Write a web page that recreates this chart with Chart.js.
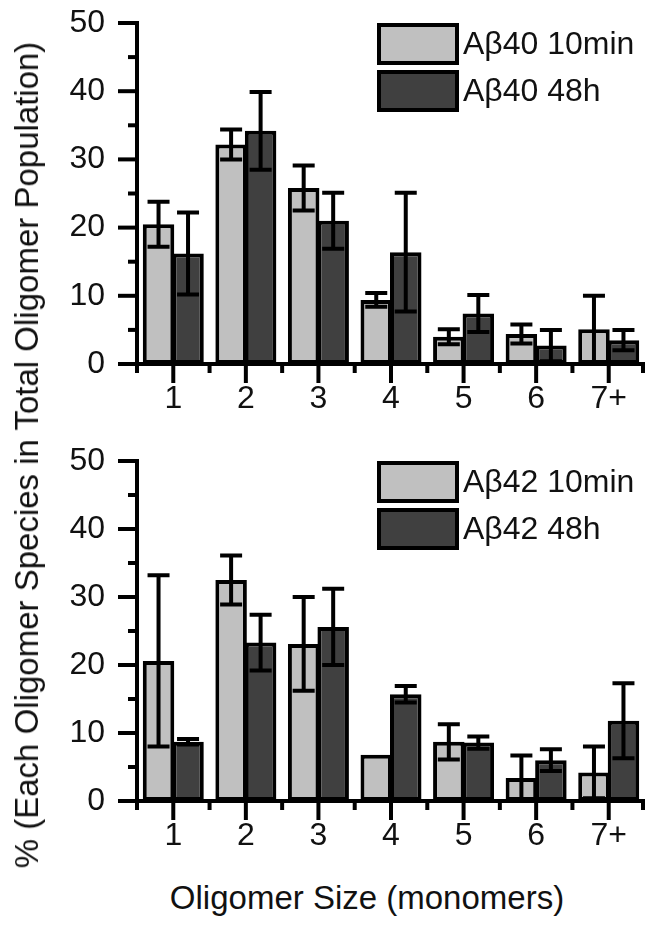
<!DOCTYPE html>
<html><head><meta charset="utf-8">
<script src="https://cdn.jsdelivr.net/npm/chart.js@4/dist/chart.umd.min.js"></script>
<style>
html,body{margin:0;padding:0;background:#fff;}
#wrap{position:relative;width:653px;height:927px;background:#fff;overflow:hidden;font-family:"Liberation Sans",Arial,sans-serif;}
.panel{position:absolute;left:0;width:653px;height:430px;}
#ytitle{position:absolute;left:27px;top:455px;white-space:nowrap;font-size:33px;color:#111;transform:translate(-50%,-50%) rotate(-90deg);transform-origin:center center;}
#xtitle{position:absolute;left:367px;top:898px;white-space:nowrap;font-size:33px;color:#111;transform:translate(-50%,-50%);}
</style></head>
<body>
<div id="wrap">
  <div class="panel" style="top:0px"><canvas id="c1" width="653" height="430"></canvas></div>
  <div class="panel" style="top:437px"><canvas id="c2" width="653" height="430"></canvas></div>
  <div id="ytitle">% (Each Oligomer Species in Total Oligomer Population)</div>
  <div id="xtitle">Oligomer Size (monomers)</div>
</div>
<script>
// ---- data ----
const categories = ["1","2","3","4","5","6","7+"];
const yTicks = [0,10,20,30,40,50];

const ab40Labels = ["A\u03b240 10min","A\u03b240 48h"];
const ab40_10min = [20.5, 32.2, 25.8, 9.4, 4.0, 4.4, 5.1];
const ab40_10min_err = [3.3, 2.2, 3.3, 1.0, 1.1, 1.4, 4.9];
const ab40_48h = [16.2, 34.2, 21.0, 16.4, 7.4, 2.7, 3.5];
const ab40_48h_err = [6.0, 5.7, 4.1, 8.7, 2.7, 2.3, 1.5];

const ab42Labels = ["A\u03b242 10min","A\u03b242 48h"];
const ab42_10min = [20.6, 32.5, 23.1, 6.8, 8.7, 3.4, 4.2];
const ab42_10min_err = [12.6, 3.6, 6.9, null, 2.6, 3.3, 3.8];
const ab42_48h = [8.7, 23.3, 25.6, 15.7, 8.6, 6.0, 11.8];
const ab42_48h_err = [0.4, 4.1, 5.6, 1.2, 0.9, 1.6, 5.5];

const LIGHT = "#c0c0c0", DARK = "#404040", INK = "#000";
const FONT = '"Liberation Sans", Arial, sans-serif';

// custom axes (major/minor ticks), error bars and in-plot legend
const figPlugin = {
  id: 'fig',
  afterDatasetsDraw(chart) {
    const ctx = chart.ctx;
    const xs = chart.scales.x, ys = chart.scales.y;
    const ca = chart.chartArea;
    const y0 = ys.getPixelForValue(0);
    const yTop = ys.getPixelForValue(50);
    ctx.save();
    ctx.strokeStyle = INK;
    ctx.lineWidth = 4;
    ctx.lineCap = 'butt';
    // y axis line
    ctx.beginPath();
    ctx.moveTo(ca.left, yTop - 2);
    ctx.lineTo(ca.left, y0 + 9);
    ctx.stroke();
    // x axis line
    ctx.beginPath();
    ctx.moveTo(ca.left - 19, y0);
    ctx.lineTo(ca.right, y0);
    ctx.stroke();
    // y ticks
    for (let v = 0; v <= 50; v += 5) {
      const py = ys.getPixelForValue(v);
      const len = (v % 10 === 0) ? 19 : 9;
      ctx.beginPath();
      ctx.moveTo(ca.left - len, py);
      ctx.lineTo(ca.left, py);
      ctx.stroke();
    }
    // x ticks: major at categories, minor at boundaries
    const n = categories.length;
    for (let i = 0; i < n; i++) {
      const px = xs.getPixelForValue(i);
      ctx.beginPath();
      ctx.moveTo(px, y0);
      ctx.lineTo(px, y0 + 19);
      ctx.stroke();
    }
    for (let i = 0; i <= n; i++) {
      let px = xs.getPixelForValue(i - 0.5);
      if (i === n) px = ca.right - 2;
      ctx.beginPath();
      ctx.moveTo(px, y0);
      ctx.lineTo(px, y0 + 9);
      ctx.stroke();
    }
    // error bars
    chart.data.datasets.forEach((ds, di) => {
      const meta = chart.getDatasetMeta(di);
      ds.errors.forEach((e, i) => {
        if (e === null || e === undefined) return;
        const v = ds.data[i];
        const bx = meta.data[i].x;
        const pyT = ys.getPixelForValue(v + e);
        const pyB = ys.getPixelForValue(Math.max(0, v - e));
        ctx.beginPath();
        ctx.moveTo(bx, pyT); ctx.lineTo(bx, pyB);
        ctx.moveTo(bx - 11, pyT); ctx.lineTo(bx + 11, pyT);
        ctx.moveTo(bx - 11, pyB); ctx.lineTo(bx + 11, pyB);
        ctx.stroke();
      });
    });
    // legend
    const lx = ca.left + 242, lw = 78, lh = 38;
    ctx.font = '32px ' + FONT;
    ctx.textBaseline = 'middle';
    ctx.textAlign = 'left';
    chart.data.datasets.forEach((ds, di) => {
      const ty = ca.top + 2 + di * 47;
      ctx.fillStyle = ds.backgroundColor;
      ctx.fillRect(lx, ty, lw, lh);
      ctx.strokeRect(lx, ty, lw, lh);
      ctx.fillStyle = '#111';
      ctx.fillText(ds.label, lx + lw + 6, ty + lh / 2 + 1);
    });
    ctx.restore();
  }
};

function makeChart(id, labels, v1, e1, v2, e2, padTop) {
  return new Chart(document.getElementById(id), {
    type: 'bar',
    data: {
      labels: categories,
      datasets: [
        { label: labels[0], data: v1, errors: e1, backgroundColor: LIGHT, borderColor: INK, borderWidth: 4, borderSkipped: false },
        { label: labels[1], data: v2, errors: e2, backgroundColor: DARK, borderColor: INK, borderWidth: 4, borderSkipped: false }
      ]
    },
    options: {
      responsive: false,
      animation: false,
      events: [],
      layout: { padding: { top: padTop, right: 8, left: 0, bottom: 0 } },
      datasets: { bar: { categoryPercentage: 0.813, barPercentage: 1.068 } },
      plugins: { legend: { display: false }, tooltip: { enabled: false } },
      scales: {
        x: {
          type: 'category',
          offset: true,
          grid: { display: false, drawTicks: true, tickLength: 16, tickColor: 'rgba(0,0,0,0)' },
          border: { display: false },
          ticks: { color: '#111', font: { size: 32, family: FONT }, padding: 0, maxRotation: 0 },
          afterFit(s) { s.height = 66; }
        },
        y: {
          min: 0, max: 50,
          afterBuildTicks(s) { s.ticks = yTicks.map(v => ({ value: v })); },
          grid: { display: false, drawTicks: true, tickLength: 32, tickColor: 'rgba(0,0,0,0)' },
          border: { display: false },
          ticks: { color: '#111', font: { size: 32, family: FONT }, padding: 0 },
          afterFit(s) { s.width = 137; }
        }
      }
    },
    plugins: [figPlugin]
  });
}

makeChart('c1', ab40Labels, ab40_10min, ab40_10min_err, ab40_48h, ab40_48h_err, 23);
makeChart('c2', ab42Labels, ab42_10min, ab42_10min_err, ab42_48h, ab42_48h_err, 24);
</script>
</body></html>
